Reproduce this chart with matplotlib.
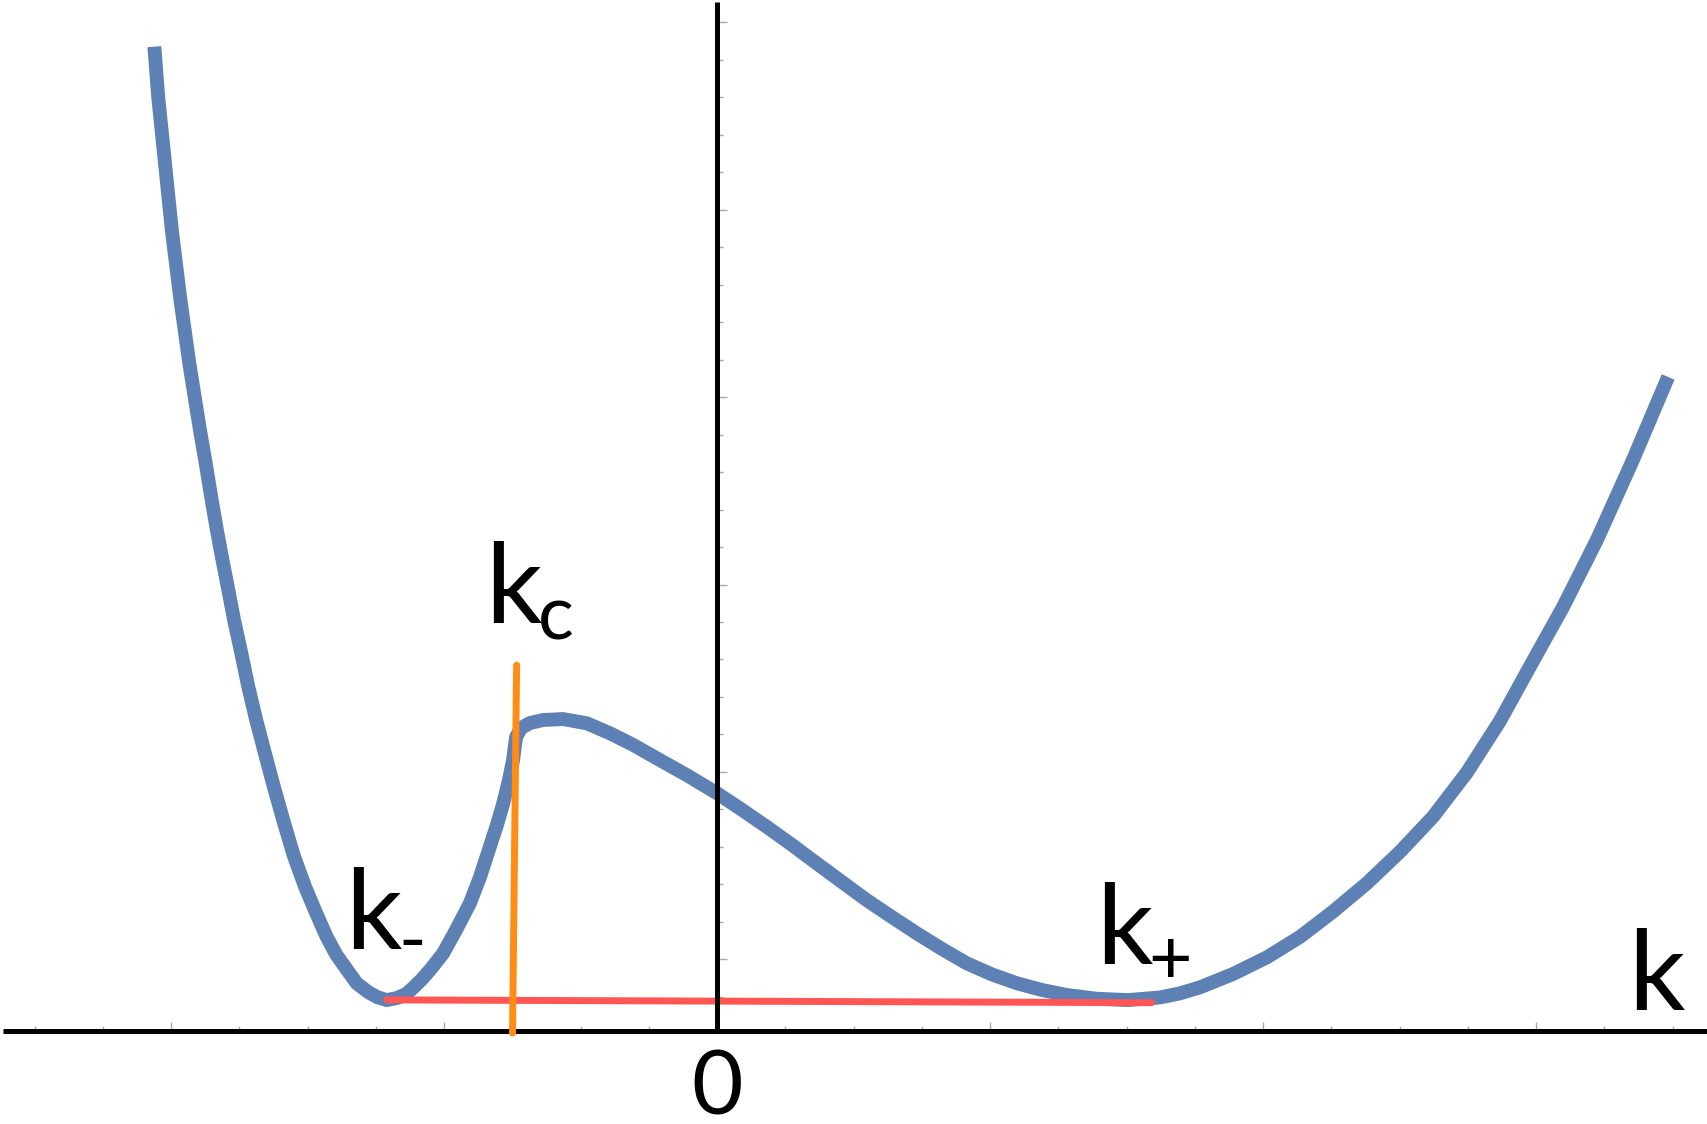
import numpy as np
import matplotlib
matplotlib.use("Agg")
import matplotlib.pyplot as plt

# dispersion curve (x: major tick = 1, y: major tick = 1)
k_vals = [-2.061, -2.047, -2.022, -1.997, -1.967, -1.933, -1.894, -1.873,
          -1.853, -1.832, -1.815, -1.790, -1.769, -1.741, -1.717, -1.688,
          -1.656, -1.623, -1.589, -1.551, -1.509, -1.470, -1.430, -1.394,
          -1.355, -1.320, -1.278, -1.245, -1.210, -1.172, -1.139, -1.112,
          -1.084, -1.051, -1.003, -0.956, -0.905, -0.868, -0.832, -0.806,
          -0.783, -0.762, -0.747, -0.736, -0.718, -0.685, -0.637, -0.564,
          -0.476, -0.392, -0.307, -0.209, -0.111, 0.000, 0.092, 0.182,
          0.275, 0.365, 0.458, 0.548, 0.641, 0.732, 0.824, 0.915,
          1.007, 1.098, 1.190, 1.281, 1.392, 1.505, 1.623, 1.696,
          1.769, 1.890, 2.014, 2.136, 2.256, 2.380, 2.502, 2.623,
          2.747, 2.868, 2.989, 3.099, 3.223, 3.355, 3.484]
e_vals = [5.254, 4.987, 4.631, 4.275, 3.919, 3.564, 3.208, 3.032,
          2.852, 2.674, 2.541, 2.354, 2.194, 2.007, 1.838, 1.660,
          1.482, 1.302, 1.126, 0.939, 0.770, 0.635, 0.503, 0.406,
          0.326, 0.255, 0.208, 0.181, 0.165, 0.176, 0.197, 0.232,
          0.272, 0.326, 0.415, 0.539, 0.682, 0.822, 0.984, 1.100,
          1.215, 1.340, 1.446, 1.569, 1.617, 1.644, 1.660, 1.665,
          1.642, 1.589, 1.527, 1.446, 1.366, 1.269, 1.180, 1.090,
          0.993, 0.895, 0.795, 0.699, 0.608, 0.521, 0.438, 0.361,
          0.302, 0.255, 0.219, 0.192, 0.172, 0.165, 0.179, 0.201,
          0.233, 0.304, 0.393, 0.503, 0.637, 0.788, 0.957, 1.144,
          1.380, 1.655, 1.975, 2.263, 2.621, 3.048, 3.491]

# red segment joining the two minima, orange marker at k_c
red_k = [-1.210, 1.592]
red_e = [0.166, 0.151]
orange_k = [-0.734, -0.749]
orange_e = [1.953, -0.011]

x_major = [-2, -1, 0, 1, 2, 3]
x_minor = np.arange(-2.5, 3.51, 0.25)
y_major = np.arange(0.383, 5.5, 1.0)
y_minor = np.arange(0.183, 5.5, 0.2)

blue = "#5e81b5"
font = ["Lato", "DejaVu Sans"]

fig = plt.figure(figsize=(17.08, 11.24), dpi=100)
ax = fig.add_axes([0, 0, 1, 1])
ax.set_xlim(-2.6264, 3.6300)
ax.set_ylim(-0.4964, 5.5030)

ax.plot(k_vals, e_vals, color=blue, lw=10, solid_capstyle="butt",
        solid_joinstyle="round", zorder=2)
ax.plot(red_k, red_e, color="#ff5555", lw=5, solid_capstyle="round", zorder=3)
ax.plot(orange_k, orange_e, color="#ff8c14", lw=5, solid_capstyle="round",
        zorder=5)

# axes crossing at the origin
for s in ["top", "right"]:
    ax.spines[s].set_visible(False)
ax.spines["left"].set_position(("data", 0))
ax.spines["bottom"].set_position(("data", 0))
ax.spines["left"].set_bounds(-0.013, 5.492)
ax.spines["bottom"].set_bounds(-2.615, 3.63)
for s in ["left", "bottom"]:
    ax.spines[s].set_linewidth(3.6)
    ax.spines[s].set_color("black")
    ax.spines[s].set_zorder(4)
    ax.spines[s].set_capstyle("butt")

ax.set_xticks(x_major)
ax.set_xticks(x_minor, minor=True)
ax.set_yticks(y_major)
ax.set_yticks(y_minor, minor=True)
ax.tick_params(axis="x", which="major", direction="in", length=6.5, width=1,
               color="#a8a8a8", labelbottom=False)
ax.tick_params(axis="x", which="minor", direction="in", length=3.8, width=1,
               color="#a8a8a8")
ax.tick_params(axis="y", which="major", direction="in", length=7.5, width=1,
               color="#a8a8a8", labelleft=False)
ax.tick_params(axis="y", which="minor", direction="in", length=4.3, width=1,
               color="#a8a8a8")

# labels
big = 80
small = 54
ax.text(-0.746, 2.185, "k", fontsize=big, family=font, ha="center", va="baseline")
ax.text(-0.590, 2.087, "c", fontsize=small, family=font, ha="center", va="baseline")
ax.text(-1.260, 0.441, "k", fontsize=big, family=font, ha="center", va="baseline")
ax.text(-1.118, 0.352, "-", fontsize=small, family=font, ha="center", va="baseline")
ax.text(1.4915, 0.361, "k", fontsize=big, family=font, ha="center", va="baseline")
ax.text(1.658, 0.251, "+", fontsize=small, family=font, ha="center", va="baseline")
ax.text(3.440, 0.116, "k", fontsize=big, family=font, ha="center", va="baseline")
ax.text(0.0, -0.448, "0", fontsize=64, family=font, ha="center", va="baseline")

fig.savefig("out.png", dpi=100)
